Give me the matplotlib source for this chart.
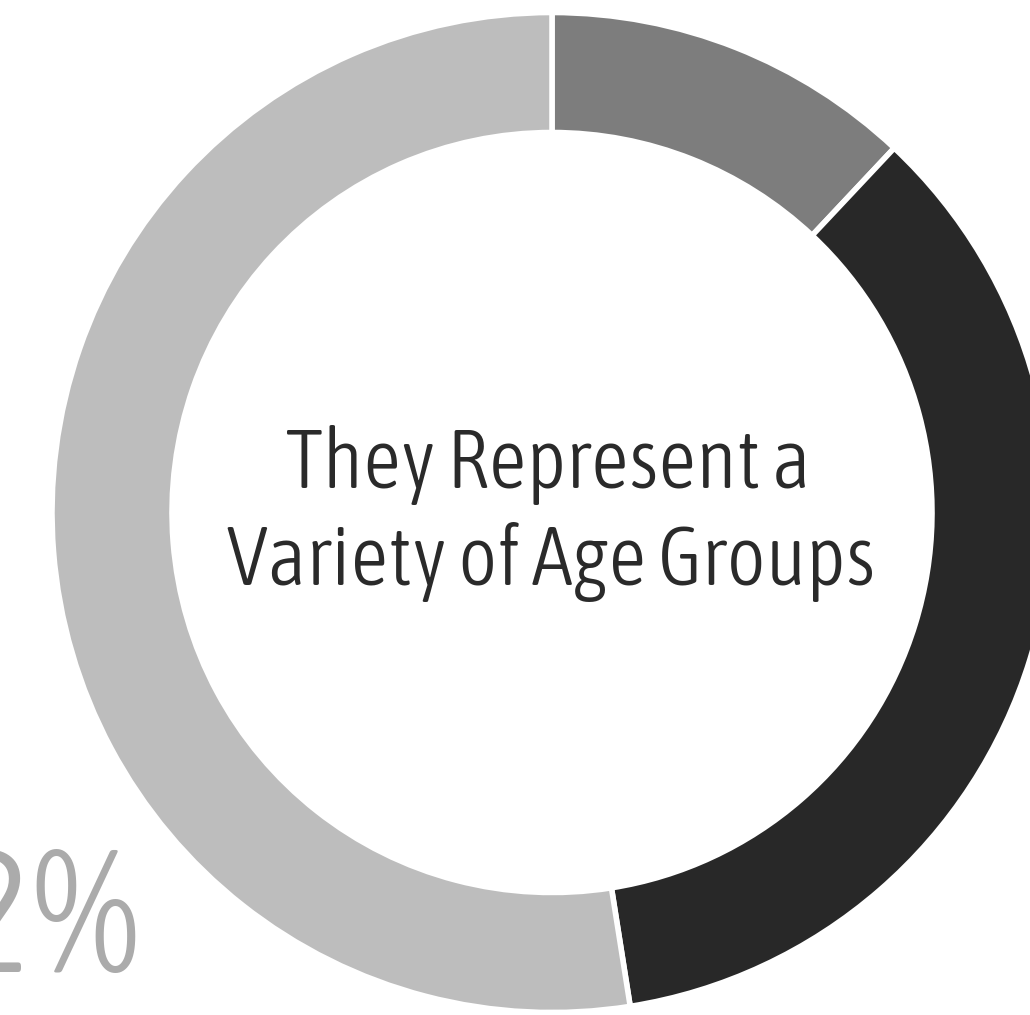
import matplotlib
matplotlib.use("Agg")
import matplotlib.pyplot as plt
from matplotlib import font_manager as fm

# Data
segment_labels = ["Group A", "Group B", "Group C"]
segment_values = [12, 35.5, 52.5]
segment_colors = ["#7d7d7d", "#282828", "#bdbdbd"]
title_lines = ["They Represent a", "Variety of Age Groups"]
side_label = "52%"


def pick_font():
    fl = fm.fontManager.ttflist
    cond = [f for f in fl if ("Narrow" in f.name or "Condensed" in f.name
                               or f.stretch in ("condensed", "semi-condensed", "extra-condensed"))
            and "Mono" not in f.name and "Serif" not in f.name and f.style == "normal"]
    if cond:
        cond.sort(key=lambda f: abs((f.weight if isinstance(f.weight, int) else 400) - 300))
        return fm.FontProperties(fname=cond[0].fname)
    for fam in ("Roboto", "Lato", "Open Sans", "Noto Sans"):
        c = [f for f in fl if f.name == fam and f.style == "normal"
             and isinstance(f.weight, int) and f.weight in (300, 200)]
        if c:
            return fm.FontProperties(fname=c[0].fname)
    return fm.FontProperties(family="Liberation Sans")


fp = pick_font()

W, H = 1030, 1015
fig = plt.figure(figsize=(W / 100, H / 100), dpi=100)
ax = fig.add_axes([0, 0, 1, 1])

cx, cy = 552, H - 512.5
R = 500
ring = 120

ax.pie(segment_values, colors=segment_colors, startangle=90, counterclock=False,
       center=(cx, cy), radius=R,
       wedgeprops=dict(width=ring, edgecolor="white", linewidth=4))

ax.set_xlim(0, W)
ax.set_ylim(0, H)
ax.set_aspect("equal")
ax.axis("off")

renderer = fig.canvas.get_renderer()


def fit_size(s, target_w, base=50):
    t = ax.text(0, 0, s, fontproperties=fp, fontsize=base)
    w = t.get_window_extent(renderer).width
    t.remove()
    return base * target_w / w


tsize = fit_size(title_lines[1], 658)
tsize = min(tsize, 60)
ax.text(548, H - 488, title_lines[0], ha="center", va="baseline",
        fontproperties=fp, fontsize=tsize, color="#2a2a2a")
ax.text(551, H - 585, title_lines[1], ha="center", va="baseline",
        fontproperties=fp, fontsize=tsize, color="#2a2a2a")

ssize = min(fit_size("%", 112), 125)
ax.text(140, H - 972, side_label, ha="right", va="baseline",
        fontproperties=fp, fontsize=ssize, color="#ababab")

fig.savefig("out.png", dpi=100, facecolor="white")
